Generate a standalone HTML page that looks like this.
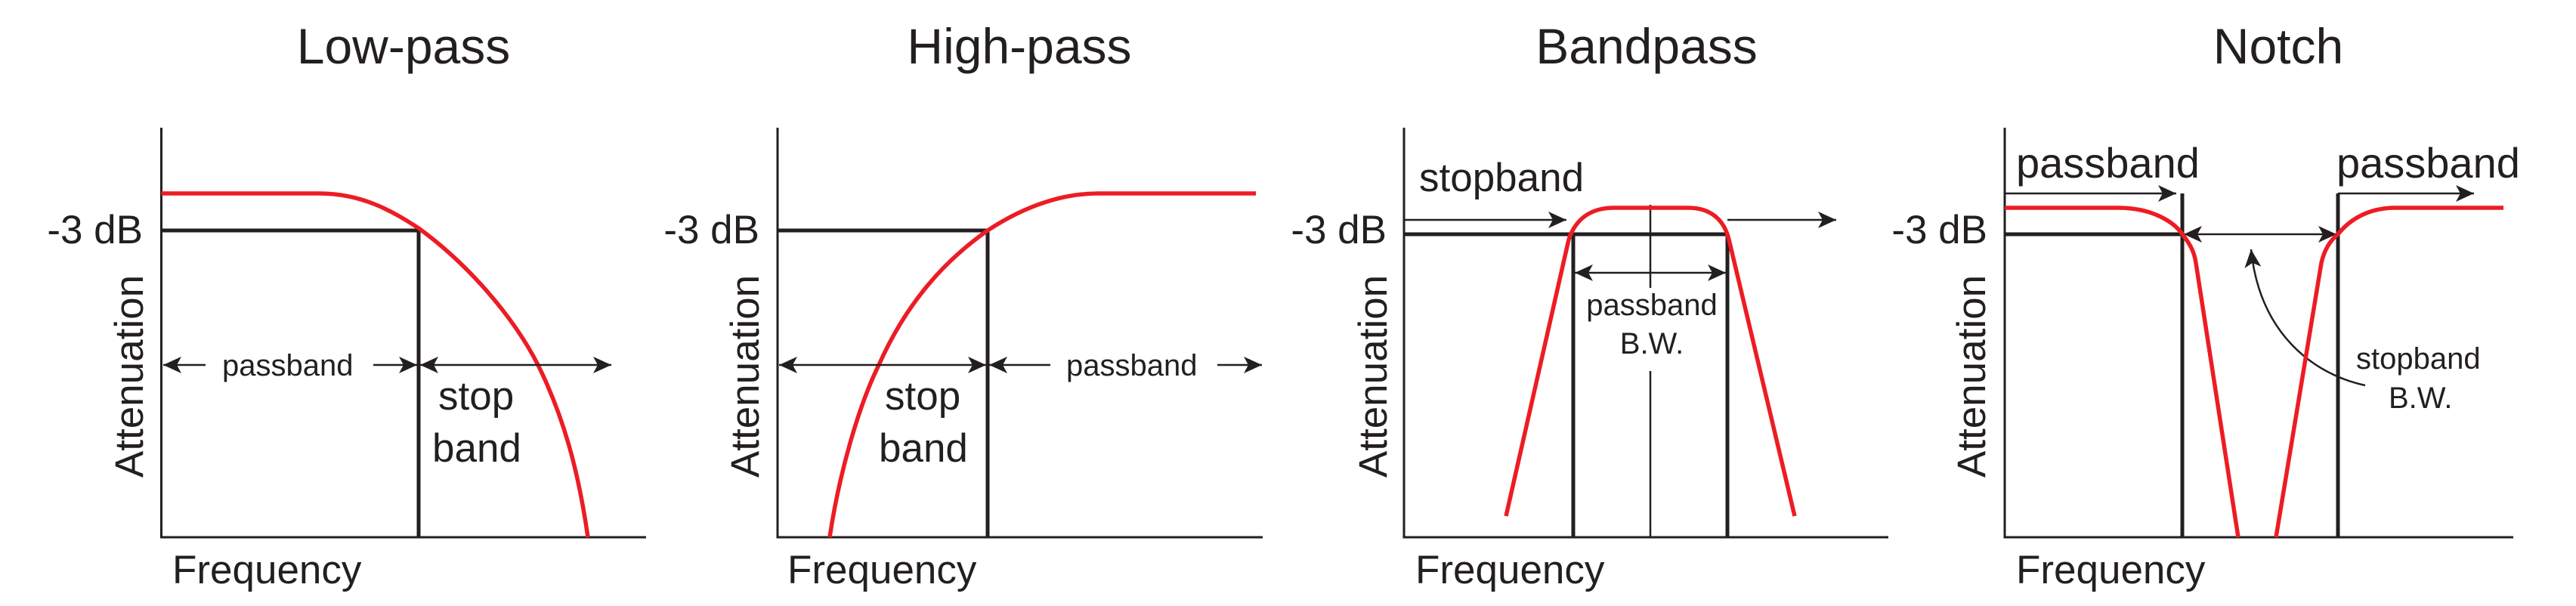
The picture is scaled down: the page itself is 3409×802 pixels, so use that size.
<!DOCTYPE html>
<html><head><meta charset="utf-8"><style>
html,body{margin:0;padding:0;background:#fff;}
svg{display:block;}
text{font-family:"Liberation Sans",Arial,sans-serif;fill:#231f20;}
.t{font-size:66px;text-anchor:middle;}
.b{font-size:53px;}
.s{font-size:40px;}
.ax{stroke:#231f20;stroke-width:3;fill:none;}
.th{stroke:#231f20;stroke-width:5;fill:none;}
.ar{stroke:#231f20;stroke-width:2.5;fill:none;}
.r{stroke:#ed1c24;stroke-width:5.5;fill:none;}
</style></head><body>
<svg width="3409" height="802" viewBox="0 0 3409 802" xmlns="http://www.w3.org/2000/svg">
<defs>
<marker id="h" markerUnits="userSpaceOnUse" markerWidth="26" markerHeight="22" refX="24" refY="11" orient="auto-start-reverse">
<path d="M0,0 L24,11 L0,22 L6,11 z" fill="#231f20"/>
</marker>
</defs>

<!-- Panel 1: Low-pass -->
<text class="t" x="534" y="84">Low-pass</text>
<path class="ax" d="M213.5,169 V711 H855"/>
<text class="b" x="189" y="322" text-anchor="end">-3 dB</text>
<text class="b" x="189" y="498" text-anchor="middle" transform="rotate(-90 189 498)">Attenuation</text>
<text class="b" x="228" y="772">Frequency</text>
<path class="th" d="M213.5,305 H554 V711"/>
<path class="r" d="M213.5,256 H422 C480,256 520,280 554,302 C620,350 680,420 712,483 C745,550 765,620 778,711"/>
<line class="ar" x1="216" y1="483" x2="272" y2="483" marker-start="url(#h)"/>
<text class="s" x="294" y="497">passband</text>
<line class="ar" x1="494" y1="483" x2="552" y2="483" marker-end="url(#h)"/>
<line class="ar" x1="556" y1="483" x2="809" y2="483" marker-start="url(#h)" marker-end="url(#h)"/>
<text class="b" x="580" y="542">stop</text>
<text class="b" x="572" y="611">band</text>

<!-- Panel 2: High-pass -->
<text class="t" x="1349" y="84">High-pass</text>
<path class="ax" d="M1029,169 V711 H1671"/>
<text class="b" x="1005" y="322" text-anchor="end">-3 dB</text>
<text class="b" x="1004" y="498" text-anchor="middle" transform="rotate(-90 1004 498)">Attenuation</text>
<text class="b" x="1042" y="772">Frequency</text>
<path class="th" d="M1029,305 H1307 V711"/>
<path class="r" d="M1098,711 C1110,630 1135,540 1163,483 C1200,400 1250,345 1307,305 C1360,270 1410,256 1453,256 H1662"/>
<line class="ar" x1="1031" y1="483" x2="1305" y2="483" marker-start="url(#h)" marker-end="url(#h)"/>
<line class="ar" x1="1309" y1="483" x2="1390" y2="483" marker-start="url(#h)"/>
<text class="s" x="1411" y="497">passband</text>
<line class="ar" x1="1611" y1="483" x2="1670" y2="483" marker-end="url(#h)"/>
<text class="b" x="1171" y="542">stop</text>
<text class="b" x="1163" y="611">band</text>

<!-- Panel 3: Bandpass -->
<text class="t" x="2179" y="84">Bandpass</text>
<path class="ax" d="M1858,169 V711 H2499"/>
<text class="b" x="1835" y="322" text-anchor="end">-3 dB</text>
<text class="b" x="1835" y="498" text-anchor="middle" transform="rotate(-90 1835 498)">Attenuation</text>
<text class="b" x="1873" y="772">Frequency</text>
<text class="b" x="1878" y="253">stopband</text>
<line class="ar" x1="1858" y1="291" x2="2073" y2="291" marker-end="url(#h)"/>
<line class="ar" x1="2286" y1="291" x2="2430" y2="291" marker-end="url(#h)"/>
<path class="th" d="M1858,310 H2286 M2082,310 V711 M2286,310 V711"/>
<path class="ar" d="M2184,271 V381 M2184,491 V711"/>
<line class="ar" x1="2084" y1="361" x2="2284" y2="361" marker-start="url(#h)" marker-end="url(#h)"/>
<text class="s" x="2186" y="417" text-anchor="middle">passband</text>
<text class="s" x="2186" y="468" text-anchor="middle">B.W.</text>
<path class="r" d="M1993,683 L2076,317 C2085,290 2105,275 2136,275 H2234 C2265,275 2282,292 2288,317 L2375,683"/>

<!-- Panel 4: Notch -->
<text class="t" x="3015" y="84">Notch</text>
<path class="ax" d="M2653,169 V711 H3326"/>
<text class="b" x="2630" y="322" text-anchor="end">-3 dB</text>
<text class="b" x="2627" y="498" text-anchor="middle" transform="rotate(-90 2627 498)">Attenuation</text>
<text class="b" x="2668" y="772">Frequency</text>
<text class="b" x="2668" y="235" style="font-size:56px">passband</text>
<text class="b" x="3092" y="235" style="font-size:56px">passband</text>
<line class="ar" x1="2653" y1="256" x2="2880" y2="256" marker-end="url(#h)"/>
<line class="ar" x1="3094" y1="256" x2="3274" y2="256" marker-end="url(#h)"/>
<path class="th" d="M2653,310 H2888 M2888,256 V711 M3094,256 V711"/>
<line class="ar" x1="2890" y1="310" x2="3092" y2="310" marker-start="url(#h)" marker-end="url(#h)"/>
<path class="ar" d="M3130,510 C3060,495 2990,440 2979,330" marker-end="url(#h)"/>
<text class="s" x="3118" y="488">stopband</text>
<text class="s" x="3161" y="540">B.W.</text>
<path class="r" d="M2653,275 H2803 C2850,275 2878,295 2888,310 C2900,325 2904,335 2906,348 L2962,711"/>
<path class="r" d="M3012,711 L3072,348 C3076,330 3084,318 3094,310 C3110,290 3135,275 3170,275 H3313"/>
</svg>
</body></html>
